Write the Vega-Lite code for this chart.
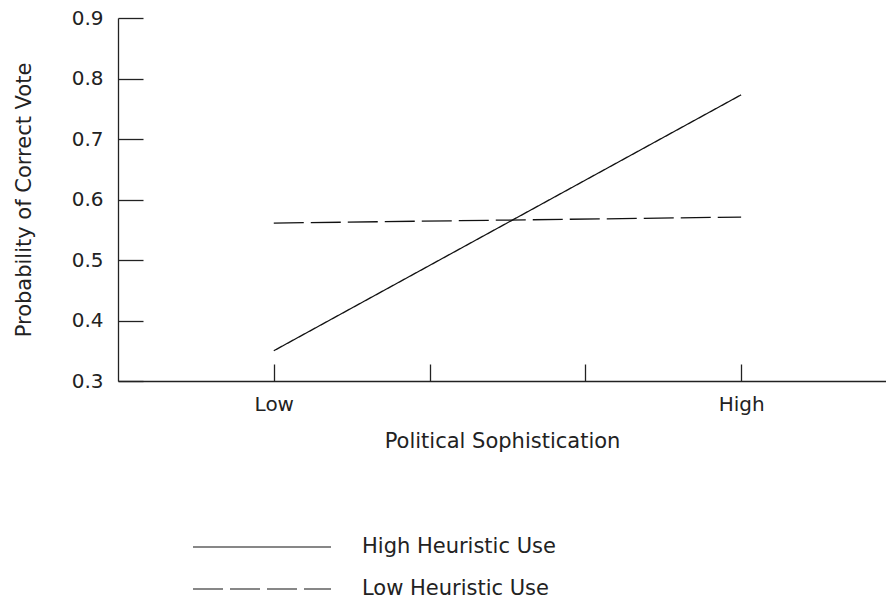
{
  "$schema": "https://vega.github.io/schema/vega-lite/v6.json",
  "autosize": "none",
  "width": 768,
  "height": 363,
  "padding": {"left": 118, "top": 18, "right": 0, "bottom": 218},
  "background": "white",
  "data": {"values": [
    {"soph": 1, "prob": 0.350, "group": "High Heuristic Use"},
    {"soph": 4, "prob": 0.773, "group": "High Heuristic Use"},
    {"soph": 1, "prob": 0.561, "group": "Low Heuristic Use"},
    {"soph": 4, "prob": 0.571, "group": "Low Heuristic Use"}
  ]},
  "mark": {"type": "line", "color": "#111", "strokeWidth": 1.3},
  "encoding": {
    "x": {"field": "soph", "type": "quantitative",
      "scale": {"domain": [0, 4.93], "nice": false, "zero": false},
      "axis": {"values": [1, 2, 3, 4], "labelExpr": "datum.value == 1 ? 'Low' : datum.value == 4 ? 'High' : ''",
        "title": "Political Sophistication", "grid": false, "tickSize": -17, "labelPadding": 30, "titlePadding": 16}},
    "y": {"field": "prob", "type": "quantitative",
      "scale": {"domain": [0.3, 0.9], "nice": false, "zero": false},
      "axis": {"values": [0.3, 0.4, 0.5, 0.6, 0.7, 0.8, 0.9], "format": ".1f", "title": "Probability of Correct Vote",
        "grid": false, "tickSize": -25, "labelPadding": 40, "titlePadding": 37}},
    "strokeDash": {"field": "group", "type": "nominal",
      "scale": {"domain": ["High Heuristic Use", "Low Heuristic Use"], "range": [[1, 0], [30, 7]]},
      "legend": {"orient": "none", "legendX": 74, "legendY": 519, "title": null,
        "symbolType": "stroke", "symbolSize": 19044, "symbolStrokeWidth": 1.2, "symbolStrokeColor": "#111",
        "clipHeight": 20, "labelOffset": 30, "rowPadding": 21}}
  },
  "config": {
    "font": "DejaVu Sans",
    "view": {"stroke": null},
    "axis": {"domainColor": "#222", "tickColor": "#222", "domainWidth": 1.3, "tickWidth": 1.3,
      "labelFont": "DejaVu Sans", "labelFontSize": 20, "labelColor": "#222",
      "titleFont": "DejaVu Sans", "titleFontSize": 21, "titleFontWeight": "normal", "titleColor": "#222"},
    "legend": {"labelFont": "DejaVu Sans", "labelFontSize": 21, "labelColor": "#222", "labelLimit": 400}
  }
}
